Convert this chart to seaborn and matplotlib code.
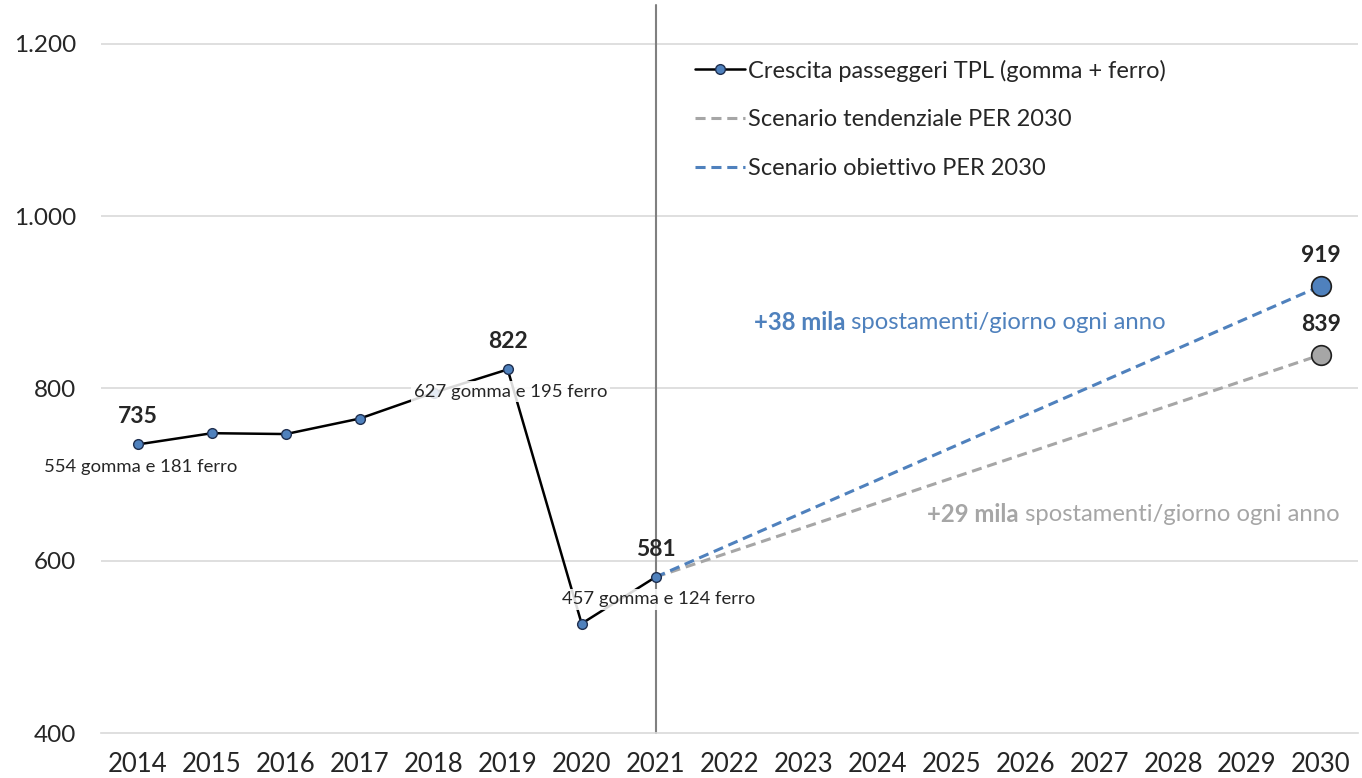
import matplotlib
matplotlib.use("Agg")
import matplotlib.pyplot as plt
import seaborn as sns
import pandas as pd
from matplotlib.lines import Line2D
from matplotlib.ticker import FixedLocator, FuncFormatter

# ---- data ----
years = [2014, 2015, 2016, 2017, 2018, 2019, 2020, 2021, 2022, 2023, 2024,
         2025, 2026, 2027, 2028, 2029, 2030]
hist_years = [2014, 2015, 2016, 2017, 2018, 2019, 2020, 2021]
hist_values = [735, 748, 747, 765, 795, 822, 527, 581]
scen_years = [2021, 2030]
tend_values = [581, 839]
obj_values = [581, 919]
bold_labels = {2014: "735", 2019: "822", 2021: "581"}
split_labels = {2014: "554 gomma e 181 ferro", 2019: "627 gomma e 195 ferro",
                2021: "457 gomma e 124 ferro"}
legend_labels = ["Crescita passeggeri TPL (gomma + ferro)",
                 "Scenario tendenziale PER 2030",
                 "Scenario obiettivo PER 2030"]

BLUE = "#4f81bd"
GREY = "#a6a6a6"
DASH = (0, (3.3, 1.9))

sns.set_theme(style="white")
plt.rcParams["font.family"] = ["Lato", "DejaVu Sans"]

fig = plt.figure(figsize=(13.62, 7.78), dpi=100)
ax = fig.add_axes([0.0742, 0.0578, 0.9228, 0.9358])

df_hist = pd.DataFrame({"year": hist_years, "value": hist_values})
df_tend = pd.DataFrame({"year": scen_years, "value": tend_values})
df_obj = pd.DataFrame({"year": scen_years, "value": obj_values})

ax.set_xlim(years[0] - 0.5, years[-1] + 0.5)
ax.set_ylim(400, 1245)

# grid
for yv in [600, 800, 1000, 1200]:
    ax.axhline(yv, color="#d9d9d9", lw=1.2, zorder=0)

# vertical separator at 2021
ax.plot([2021, 2021], [400, 1245], color="#808080", lw=1.5, zorder=1, clip_on=False)

sns.lineplot(data=df_tend, x="year", y="value", ax=ax, color=GREY, lw=2.2,
             linestyle=DASH, zorder=2)
sns.lineplot(data=df_obj, x="year", y="value", ax=ax, color=BLUE, lw=2.2,
             linestyle=DASH, zorder=3)
ax.scatter([scen_years[-1]], [obj_values[-1]], s=200, color=BLUE,
           edgecolor="#1f1f1f", linewidth=1.2, zorder=5)
ax.scatter([scen_years[-1]], [tend_values[-1]], s=200, color=GREY,
           edgecolor="#1f1f1f", linewidth=1.2, zorder=5)

sns.lineplot(data=df_hist, x="year", y="value", ax=ax, color="black", lw=1.8,
             marker="o", markersize=7, markerfacecolor=BLUE,
             markeredgecolor="#1f2f4f", markeredgewidth=1.0, zorder=4)

# labels
for yr, txt in bold_labels.items():
    v = hist_values[hist_years.index(yr)]
    ax.annotate(txt, (yr, v), xytext=(0, 12.5), textcoords="offset points",
                ha="center", va="bottom", fontsize=16.5, fontweight="bold", zorder=6)
for yr, txt in split_labels.items():
    v = hist_values[hist_years.index(yr)]
    bbox = None if yr == 2014 else dict(boxstyle="square,pad=0.15", fc="white",
                                        ec="none", alpha=0.85)
    ax.annotate(txt, (yr, v), xytext=(2, -16), textcoords="offset points",
                ha="center", va="center", fontsize=13.3, bbox=bbox, zorder=6)
ax.annotate(str(obj_values[-1]), (scen_years[-1], obj_values[-1]),
            xytext=(0, 14), textcoords="offset points", ha="center", va="bottom",
            fontsize=16.5, fontweight="bold")
ax.annotate(str(tend_values[-1]), (scen_years[-1], tend_values[-1]),
            xytext=(0, 14), textcoords="offset points", ha="center", va="bottom",
            fontsize=16.5, fontweight="bold")

# rate annotations
t1 = ax.text(2022.33, 876, "+38 mila", color=BLUE, fontsize=17.2, fontweight="bold",
             va="center", ha="left")
ax.annotate(" spostamenti/giorno ogni anno", xy=(1, 0.5), xycoords=t1,
            va="center", ha="left", color=BLUE, fontsize=17.2)
t2 = ax.text(2024.67, 654, "+29 mila", color=GREY, fontsize=17.2, fontweight="bold",
             va="center", ha="left")
ax.annotate(" spostamenti/giorno ogni anno", xy=(1, 0.5), xycoords=t2,
            va="center", ha="left", color=GREY, fontsize=17.2)

# axes styling
for s in ["top", "right", "left"]:
    ax.spines[s].set_visible(False)
ax.spines["bottom"].set_color("#d9d9d9")
ax.spines["bottom"].set_linewidth(1.2)
ax.set_yticks([400, 600, 800, 1000, 1200])
ax.yaxis.set_major_formatter(FuncFormatter(lambda v, p: f"{int(v):,}".replace(",", ".")))
ax.set_xticks(years)
ax.set_xticklabels([str(y) for y in years])
ax.xaxis.set_minor_locator(FixedLocator([y - 0.5 for y in years] + [years[-1] + 0.5]))
ax.tick_params(axis="x", which="major", length=0, labelsize=18.5, pad=14)
ax.tick_params(axis="x", which="minor", length=8, color="#d9d9d9", width=1.2, direction="out")
ax.tick_params(axis="y", length=0, labelsize=17.5, pad=18)
ax.set_xlabel("")
ax.set_ylabel("")

handles = [
    Line2D([], [], color="black", lw=1.8, marker="o", markersize=7,
           markerfacecolor=BLUE, markeredgecolor="#1f2f4f"),
    Line2D([], [], color=GREY, lw=2.2, linestyle=DASH),
    Line2D([], [], color=BLUE, lw=2.2, linestyle=DASH),
]
ax.legend(handles, legend_labels, loc="upper left", bbox_to_anchor=(0.465, 0.938),
          frameon=False, fontsize=17, handlelength=2.1, handletextpad=0.15,
          labelspacing=1.17, borderaxespad=0)

fig.savefig("out.png", dpi=100)
